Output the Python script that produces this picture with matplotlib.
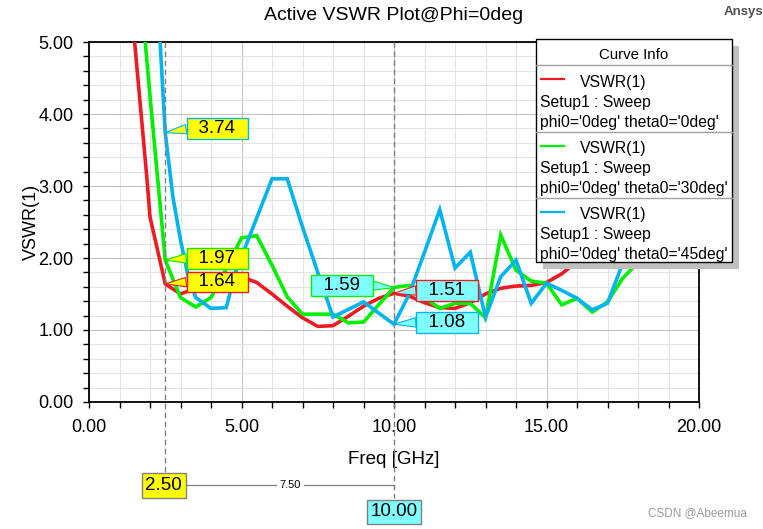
import matplotlib

matplotlib.use("Agg")
import matplotlib.pyplot as plt
from matplotlib.lines import Line2D
from matplotlib.patches import Rectangle
from matplotlib.ticker import FormatStrFormatter, MultipleLocator

# --- curves (Freq in GHz, VSWR) ---
freq_red = [1.4, 1.9, 2.0, 2.5, 3.0, 3.5, 4.0, 4.5, 5.0, 5.5, 6.0, 6.5, 7.0,
            7.5, 8.0, 8.5, 9.0, 9.5, 10.0, 10.5, 11.0, 11.5, 12.0, 12.5, 13.0,
            13.5, 14.0, 14.5, 15.0, 15.5, 16.0, 16.5, 17.0, 17.5, 18.0, 18.5,
            19.0]
vswr_red = [5.45, 3.1, 2.57, 1.64, 1.50, 1.58, 1.66, 1.71, 1.74, 1.66, 1.50,
            1.33, 1.17, 1.05, 1.06, 1.19, 1.33, 1.44, 1.51, 1.47, 1.38, 1.31,
            1.30, 1.38, 1.50, 1.58, 1.61, 1.62, 1.66, 1.78, 1.95, 2.35, 2.9,
            3.5, 4.1, 4.8, 5.5]

freq_green = [1.75, 2.0, 2.5, 3.0, 3.5, 4.0, 4.5, 5.0, 5.5, 6.0, 6.5, 7.0,
              7.5, 8.0, 8.5, 9.0, 9.5, 10.0, 10.5, 11.0, 11.5, 12.0, 12.5,
              13.0, 13.5, 14.0, 14.5, 15.0, 15.5, 16.0, 16.5, 17.0, 17.5, 18.0,
              18.5, 19.0, 19.5, 20.0]
vswr_green = [5.45, 4.25, 1.97, 1.45, 1.32, 1.45, 1.85, 2.28, 2.31, 1.90,
              1.46, 1.22, 1.22, 1.22, 1.10, 1.11, 1.35, 1.59, 1.62, 1.45, 1.30,
              1.37, 1.37, 1.17, 2.32, 1.83, 1.68, 1.65, 1.35, 1.44, 1.25, 1.39,
              1.72, 1.94, 2.3, 2.6, 2.8, 3.0]

freq_blue = [2.25, 2.5, 2.75, 3.0, 3.25, 3.5, 4.0, 4.5, 4.8, 6.0, 6.5, 7.0,
             7.5, 8.0, 9.0, 10.0, 10.5, 11.0, 11.5, 12.0, 12.5, 13.0, 13.5,
             14.0, 14.5, 15.0, 15.5, 16.0, 16.5, 17.0, 17.5, 18.0, 18.5, 19.0,
             19.5, 20.0]
vswr_blue = [5.6, 3.74, 2.85, 2.25, 1.75, 1.45, 1.30, 1.31, 1.80, 3.1, 3.1,
             2.43, 1.8, 1.18, 1.39, 1.08, 1.5, 2.08, 2.67, 1.86, 2.08, 1.18,
             1.74, 1.97, 1.37, 1.65, 1.55, 1.44, 1.28, 1.37, 1.93, 2.5, 2.9,
             3.2, 3.4, 3.5]

curve_setups = ["phi0='0deg' theta0='0deg'",
                "phi0='0deg' theta0='30deg'",
                "phi0='0deg' theta0='45deg'"]

# markers m1 / m2 and the values shown in their callouts
m1_freq, m2_freq = 2.5, 10.0
m1_vals = {"blue": 3.74, "green": 1.97, "red": 1.64}
m2_vals = {"green": 1.59, "red": 1.51, "blue": 1.08}

RED, GREEN, BLUE = "#ed1c24", "#00f000", "#00b4f0"
COLORS = {"red": RED, "green": GREEN, "blue": BLUE}
YELLOW, CYAN = "#ffff00", "#80ffff"
FONT = ["Liberation Sans", "DejaVu Sans"]

W, H = 763, 529
plt.rcParams["font.family"] = FONT


def fx(px):
    return px / W


def fy(py):
    return 1 - py / H


fig = plt.figure(figsize=(W / 100, H / 100), dpi=100)
ax = fig.add_axes([fx(89), fy(402), (699 - 89) / W, (402 - 42) / H])

for f, v, c in [(freq_red, vswr_red, RED), (freq_green, vswr_green, GREEN),
                (freq_blue, vswr_blue, BLUE)]:
    ax.plot(f, v, color=c, lw=2.6, solid_joinstyle="miter", zorder=3)

ax.set_xlim(0, 20)
ax.set_ylim(0, 5)
ax.xaxis.set_major_locator(MultipleLocator(5))
ax.xaxis.set_minor_locator(MultipleLocator(1))
ax.yaxis.set_major_locator(MultipleLocator(1))
ax.yaxis.set_minor_locator(MultipleLocator(0.2))
ax.xaxis.set_major_formatter(FormatStrFormatter("%.2f"))
ax.yaxis.set_major_formatter(FormatStrFormatter("%.2f"))
ax.grid(which="major", color="#c4c4c4", lw=0.8, zorder=0)
ax.grid(which="minor", color="#e4e4e4", lw=0.8, zorder=0)
ax.set_axisbelow(True)
ax.tick_params(which="both", direction="out", length=4, width=1,
               labelsize=13)
ax.tick_params(axis="x", pad=8)
ax.tick_params(axis="y", pad=7)
for s in ax.spines.values():
    s.set_linewidth(1.3)
ax.set_xlabel("Freq [GHz]", fontsize=13.5, labelpad=11)
ax.set_ylabel("VSWR(1)", fontsize=13, labelpad=-1)

fig.text(fx(394), fy(16), "Active VSWR Plot@Phi=0deg", fontsize=14,
         ha="center", va="center")
fig.text(fx(743), fy(12), "Ansys", fontsize=9.5, weight="bold",
         color="#505050", ha="center", va="center")
fig.text(fx(697), fy(513), "CSDN @Abeemua", fontsize=8.5, color="#9a9a9a",
         ha="center", va="center")

# marker lines: dashed verticals continued below the axes to the x readouts
xt = ax.get_xaxis_transform()
bot1, bot2 = -(472 - 402) / 360, -(498 - 402) / 360
ax.plot([m1_freq, m1_freq], [1, bot1], transform=xt, color="#808080",
        lw=1, ls=(0, (4, 2.5)), clip_on=False, zorder=4)
ax.plot([m2_freq, m2_freq], [1, bot2], transform=xt, color="#808080",
        lw=1, ls=(0, (4, 2.5)), clip_on=False, zorder=4)

ydelta = -(485 - 402) / 360
x_start = m1_freq + 0.69
ax.plot([x_start, m2_freq], [ydelta, ydelta], transform=xt, color="#808080",
        lw=0.9, clip_on=False, zorder=4)
ax.text((x_start + m2_freq) / 2, ydelta, f"{m2_freq - m1_freq:.2f}",
        transform=xt, fontsize=8, ha="center", va="center", zorder=5,
        bbox=dict(boxstyle="square,pad=0.25", fc="white", ec="none"))
ax.text(m1_freq - 0.05, -(485.5 - 402) / 360, f"{m1_freq:.2f}", transform=xt,
        fontsize=13.5, ha="center", va="center", zorder=6,
        bbox=dict(boxstyle="square,pad=0.2", fc=YELLOW, ec="#808080", lw=1))
ax.text(m2_freq, -(512 - 402) / 360, f"{m2_freq:.2f}", transform=xt,
        fontsize=13.5, ha="center", va="center", zorder=6,
        bbox=dict(boxstyle="square,pad=0.2", fc=CYAN, ec="#808080", lw=1))

# callouts (box offset in pixels from the marked point)
callouts = [
    (m1_freq, "blue", YELLOW, (52, 4)),
    (m1_freq, "green", YELLOW, (52, 2)),
    (m1_freq, "red", YELLOW, (52, 2)),
    (m2_freq, "green", CYAN, (-52, 2)),
    (m2_freq, "red", CYAN, (53, 3)),
    (m2_freq, "blue", CYAN, (53, 2)),
]
for f, key, fill, off in callouts:
    val = (m1_vals if f == m1_freq else m2_vals)[key]
    rel = (0, 0.5) if off[0] > 0 else (1, 0.5)
    ax.annotate(f"  {val:.2f}  ", xy=(f, val), xytext=off,
                textcoords="offset pixels", fontsize=13.5, ha="center",
                va="center", zorder=7,
                bbox=dict(boxstyle="square,pad=0.1", fc=fill,
                          ec=COLORS[key], lw=1),
                arrowprops=dict(arrowstyle="wedge,tail_width=0.5",
                                fc=fill, ec=COLORS[key], lw=0.8,
                                relpos=rel, shrinkA=0, shrinkB=0))

# "Curve Info" box drawn in figure pixels
lx0, lx1, ly0, ly1 = 536, 732, 39, 262
fig.add_artist(Rectangle((fx(lx0 + 7), fy(ly1 + 7)), (lx1 - lx0) / W,
                         (ly1 - ly0) / H, transform=fig.transFigure,
                         fc="#c0c0c0", ec="none", zorder=8))
fig.add_artist(Rectangle((fx(lx0), fy(ly1)), (lx1 - lx0) / W,
                         (ly1 - ly0) / H, transform=fig.transFigure,
                         fc="white", ec="black", lw=1, zorder=9))
fig.text(fx((lx0 + lx1) / 2), fy(55), "Curve Info", fontsize=10.8,
         ha="center", va="center", zorder=10)
fig.add_artist(Line2D([fx(lx0), fx(lx1)], [fy(65), fy(65)],
                      transform=fig.transFigure, color="#a0a0a0", lw=1,
                      zorder=10))
for i, (c, setup) in enumerate(zip([RED, GREEN, BLUE], curve_setups)):
    top = 65 + 66.5 * i
    fig.add_artist(Line2D([fx(541), fx(564)], [fy(top + 14), fy(top + 14)],
                          transform=fig.transFigure, color=c, lw=1.6,
                          zorder=10))
    fig.text(fx(580), fy(top + 17), "VSWR(1)", fontsize=11.3, va="center",
             zorder=10)
    fig.text(fx(540), fy(top + 37), "Setup1 : Sweep", fontsize=11.3,
             va="center", zorder=10)
    fig.text(fx(540), fy(top + 57), setup, fontsize=11.3, va="center",
             zorder=10)
    if i < 2:
        fig.add_artist(Line2D([fx(lx0), fx(lx1)], [fy(top + 67), fy(top + 67)],
                              transform=fig.transFigure, color="#a0a0a0",
                              lw=1, zorder=10))

fig.savefig("out.png", dpi=100)
